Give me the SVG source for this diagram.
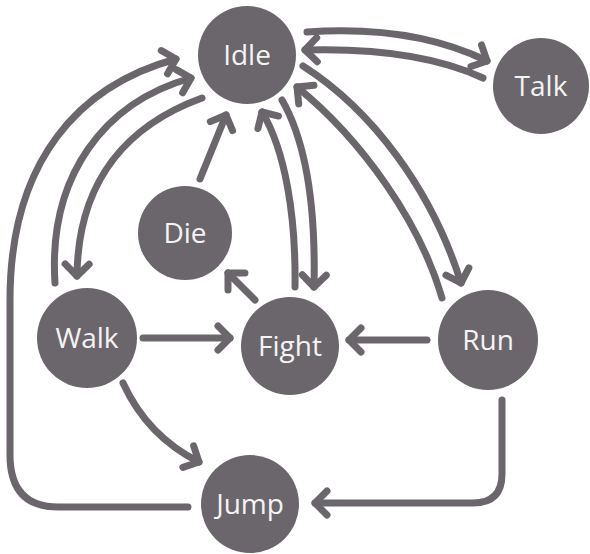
<svg xmlns="http://www.w3.org/2000/svg" width="590" height="554" viewBox="0 0 590 554">
<style>
.node circle{fill:#6a666b}
.node text{fill:#f4f4f4;font-family:"Open Sans","DejaVu Sans",sans-serif;font-size:28px;text-anchor:middle}
#edges path{fill:none;stroke:#6a666b;stroke-width:7;stroke-linecap:round;stroke-linejoin:round}
</style>
<defs>
<marker id="arr" viewBox="-20 -20 40 40" markerWidth="40" markerHeight="40" markerUnits="userSpaceOnUse" refX="0" refY="0" orient="auto" overflow="visible">
<path d="M-12,-12 L0,0 L-12,12" fill="none" stroke="#6a666b" stroke-width="7" stroke-linecap="round" stroke-linejoin="round"/>
</marker>
</defs>
<rect width="590" height="554" fill="#ffffff"/>
<g id="edges">
<path d="M188,507 L58,507 Q10,507 10,455 L10,300 C10,160 80,85 176,59" marker-end="url(#arr)"/>
<path d="M55,283 C48,175 105,102 191,78" marker-end="url(#arr)"/>
<path d="M202,98 C128,125 78,180 77,276" marker-end="url(#arr)"/>
<path d="M200,179 L226,115" marker-end="url(#arr)"/>
<path d="M295,287 C296,215 285,150 262,112" marker-end="url(#arr)"/>
<path d="M282,100 C305,140 316,200 314,287" marker-end="url(#arr)"/>
<path d="M442,298 C420,222 362,140 297,87" marker-end="url(#arr)"/>
<path d="M303,66 C372,110 432,190 461,283" marker-end="url(#arr)"/>
<path d="M307,32 C380,27 440,38 487,61" marker-end="url(#arr)"/>
<path d="M483,78 C440,58 380,48 305,50" marker-end="url(#arr)"/>
<path d="M255,300 L228,273" marker-end="url(#arr)"/>
<path d="M143,338 L230,338" marker-end="url(#arr)"/>
<path d="M123,383 C140,420 165,445 199,462" marker-end="url(#arr)"/>
<path d="M427,340 L349,340" marker-end="url(#arr)"/>
<path d="M502,400 L502,474 Q502,503 473,503 L315,503" marker-end="url(#arr)"/>
</g>
<g id="idle" class="node"><circle cx="247" cy="55" r="49"/><text x="247" y="65">Idle</text></g>
<g id="talk" class="node"><circle cx="541" cy="86" r="48"/><text x="541" y="96">Talk</text></g>
<g id="die" class="node"><circle cx="185" cy="233" r="47"/><text x="185" y="243">Die</text></g>
<g id="walk" class="node"><circle cx="87" cy="338" r="50"/><text x="87" y="348">Walk</text></g>
<g id="fight" class="node"><circle cx="290" cy="346" r="49"/><text x="290" y="356">Fight</text></g>
<g id="run" class="node"><circle cx="488" cy="340" r="50"/><text x="488" y="350">Run</text></g>
<g id="jump" class="node"><circle cx="250" cy="504" r="49"/><text x="250" y="514">Jump</text></g>
</svg>
